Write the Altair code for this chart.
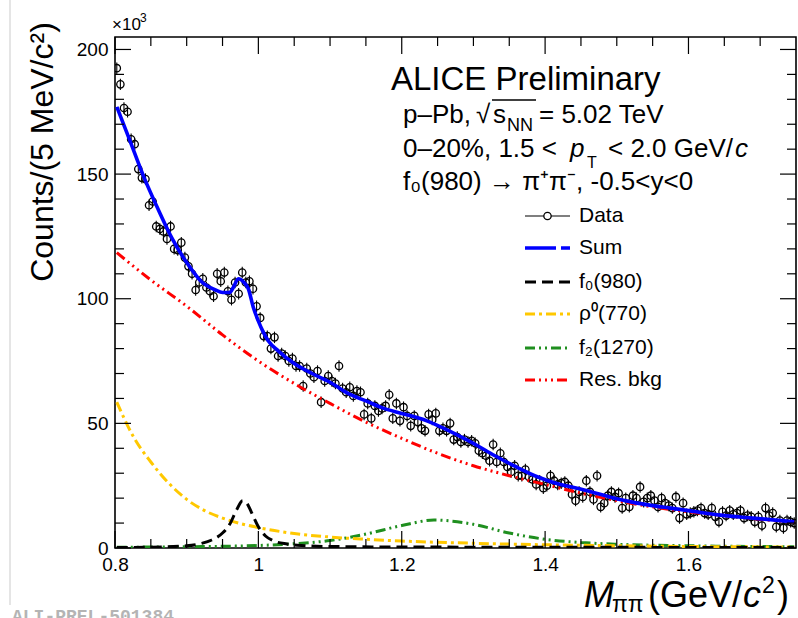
import altair as alt
import pandas as pd
import numpy as np

# ---------------- data (counts in units of 10^3) ----------------
X_MIN, X_MAX = 0.8, 1.75
Y_MAX = 205
BIN_START, BIN_WIDTH = 0.8025, 0.005

counts = [
    192.5, 186, 176.5, 175, 164, 162, 152, 148.5, 148, 137.5,
    139, 129, 128, 127, 124, 129, 120, 119.5, 122.5, 116.5,
    113, 110, 103.5, 106.5, 108, 104.5, 103, 101, 110, 107,
    110.5, 103, 99.6, 106.5, 102, 110.5, 106.5, 107, 104, 97,
    92.3, 85, 85, 80, 84.5, 77, 78, 77, 75, 76,
    73, 73, 65, 72, 70, 68.5, 71, 58.5, 67, 69,
    67, 66, 73, 64, 62.5, 64.5, 61, 63, 62.5, 53.6,
    58, 52, 57, 55, 56, 57, 61.5, 52, 58, 51,
    56.5, 53, 49, 53, 50.5, 48, 47, 53.6, 51.5, 54,
    47, 48, 47, 50, 43.5, 44.5, 42.5, 43.5, 42.5, 43,
    42, 39, 38, 37, 35, 41.5, 34.5, 38, 34.5, 32.5,
    30.5, 33, 29, 29, 31.5, 28.5, 27.5, 25.5, 27, 24,
    25, 29, 27, 25.5, 26, 26.5, 25, 21.5, 19, 22.5,
    20.5, 27, 22.5, 19.5, 29, 16.5, 18, 21, 22.5, 20.5,
    22, 16, 20, 16.5, 21, 20, 24.5, 18.5, 20, 21,
    19, 16.5, 20, 18, 17, 16, 20.5, 12, 18, 13.5,
    14, 14.5, 15, 16, 14, 13.5, 16, 12.5, 10.5, 14.5,
    13, 15, 13.5, 14, 15, 12, 13, 12.5, 10.5, 12.5,
    9, 16, 13, 14, 8.5, 11, 8, 11, 10.5, 10,
]
count_err = 2.3

sum_x = [0.8025, 0.82, 0.84, 0.86, 0.88, 0.90, 0.92, 0.94, 0.95, 0.96, 0.965, 0.972,
         0.98, 0.986, 0.993, 1.0, 1.007, 1.014, 1.028, 1.05, 1.075, 1.1, 1.125, 1.15,
         1.175, 1.2, 1.235, 1.255, 1.28, 1.3, 1.33, 1.36, 1.39, 1.415, 1.44, 1.465,
         1.49, 1.52, 1.55, 1.575, 1.6, 1.645, 1.69, 1.7475]
sum_y = [177, 164, 149, 136, 124, 114.5, 107, 103.5, 102.5, 102.5, 104.5, 108,
         106.5, 104, 96.5, 91, 86.5, 83, 79, 74, 70, 66.5, 62, 59,
         56, 54, 51, 48.5, 45, 42, 37, 32.5, 28.5, 26, 24.3, 22.5,
         20.5, 18.5, 17, 16, 15, 13.2, 12, 10.5]

bkg_x = [0.8025, 0.85, 0.9, 0.95, 1.0, 1.05, 1.1, 1.15, 1.2, 1.25, 1.3, 1.35, 1.4,
         1.45, 1.5, 1.55, 1.6, 1.65, 1.7, 1.7475]
bkg_y = [118.5, 107.5, 97, 85.5, 75, 66, 58, 50.5, 44, 38, 33, 29, 25.5,
         22, 19, 16.5, 14.5, 13, 11.5, 10.3]

rho_x = [0.8025, 0.825, 0.85, 0.875, 0.9, 0.925, 0.95, 0.975, 1.0, 1.05, 1.1, 1.15,
         1.2, 1.3, 1.4, 1.5, 1.6, 1.7475]
rho_y = [58.5, 45, 34.5, 26, 19.5, 15, 12, 9.8, 8.2, 5.8, 4.4, 3.5,
         2.8, 1.9, 1.3, 0.9, 0.6, 0.4]

f0_x = [0.8025, 0.85, 0.9, 0.92, 0.935, 0.95, 0.96, 0.97, 0.978, 0.985, 0.99, 1.0,
        1.01, 1.02, 1.04, 1.06, 1.1, 1.2, 1.4, 1.7475]
f0_y = [0.2, 0.3, 0.9, 1.8, 3.2, 6, 9.5, 15.5, 19, 17.5, 14.5, 8.5,
        4.8, 3.0, 1.6, 1.0, 0.6, 0.4, 0.3, 0.2]

f2_x = [0.8025, 0.9, 1.0, 1.05, 1.1, 1.15, 1.2, 1.245, 1.3, 1.35, 1.4, 1.45, 1.5,
        1.6, 1.7475]
f2_y = [0.3, 0.5, 1.0, 1.7, 3, 5.6, 9.0, 11.2, 9.5, 6, 3.5, 2.2, 1.5,
        0.9, 0.5]

x_major = [0.8, 1.0, 1.2, 1.4, 1.6]
x_minor = [0.85, 0.9, 0.95, 1.05, 1.1, 1.15, 1.25, 1.3, 1.35, 1.45, 1.5, 1.55, 1.65, 1.7]
y_major = [0, 50, 100, 150, 200]
y_minor = [10, 20, 30, 40, 60, 70, 80, 90, 110, 120, 130, 140, 160, 170, 180, 190]

legend_labels = ["Data", "Sum", "f\u2080(980)", "\u03c1\u2070(770)", "f\u2082(1270)", "Res. bkg"]

# ---------------- layout ----------------
W, H = 681, 511
L, T = 115, 37
FONT = "Liberation Sans"

xs = alt.Scale(domain=[X_MIN, X_MAX], nice=False, zero=False)
ys = alt.Scale(domain=[0, Y_MAX], nice=False, zero=False)
AX = alt.Axis(values=x_major, labelExpr="datum.value == 1 ? '1' : format(datum.value, '.1f')",
              ticks=False, domain=False, grid=False, title=None, labelFlush=False,
              labelOverlap=False,
              labelFont=FONT, labelFontSize=19, labelColor="black", labelPadding=7)
AY = alt.Axis(values=y_major, ticks=False, domain=False, grid=False, title=None,
              labelFlush=False, labelOverlap=False,
              labelFont=FONT, labelFontSize=19, labelColor="black", labelPadding=7)


def X(f):
    return alt.X(f, scale=xs, axis=AX)


def Y(f):
    return alt.Y(f, scale=ys, axis=AY)


centers = np.round(BIN_START + BIN_WIDTH * np.arange(len(counts)), 4)
df_data = pd.DataFrame({"x": centers, "y": counts})
df_data["lo"] = df_data["y"] - count_err
df_data["hi"] = df_data["y"] + count_err

layers = []

err_layer = alt.Chart(df_data).mark_rule(color="black", strokeWidth=1.1, clip=True).encode(
    x=X("x:Q"), y=Y("lo:Q"), y2="hi:Q")
pts_layer = alt.Chart(df_data).mark_point(shape="circle", filled=False, color="black",
                                          size=54, strokeWidth=1.3, opacity=1, clip=True).encode(
    x=X("x:Q"), y=Y("y:Q"))
layers += [err_layer, pts_layer]


def curve(xv, yv, color, dash, width=3):
    d = pd.DataFrame({"x": xv, "y": yv})
    kw = dict(color=color, strokeWidth=width, interpolate="monotone", clip=True)
    if dash:
        kw["strokeDash"] = dash
    return alt.Chart(d).mark_line(**kw).encode(x=X("x:Q"), y=Y("y:Q"))


RED, YEL, GRN, BLU = "#ff0000", "#ffc800", "#1f8f1f", "#0000ff"
D_F0 = [11, 6]
D_RHO = [10, 4, 3, 4]
D_F2 = [10, 4, 2, 4, 2, 4]
D_BKG = [10, 4, 2, 4, 2, 4, 2, 4]

layers += [
    curve(f2_x, f2_y, GRN, D_F2),
    curve(rho_x, rho_y, YEL, D_RHO),
    curve(f0_x, f0_y, "black", D_F0),
    curve(bkg_x, bkg_y, RED, D_BKG),
    curve(sum_x, sum_y, BLU, None, 3.6),
]


# inward ticks on all four sides
def xticks(vals, length):
    d = pd.DataFrame({"x": vals})
    bot = alt.Chart(d).mark_rule(color="black", strokeWidth=1.2).encode(
        x=X("x:Q"), y=alt.value(H), y2=alt.value(H - length))
    top = alt.Chart(d).mark_rule(color="black", strokeWidth=1.2).encode(
        x=X("x:Q"), y=alt.value(0), y2=alt.value(length))
    return [bot, top]


def yticks(vals, length):
    d = pd.DataFrame({"y": vals})
    lft = alt.Chart(d).mark_rule(color="black", strokeWidth=1.2).encode(
        y=Y("y:Q"), x=alt.value(0), x2=alt.value(length))
    rgt = alt.Chart(d).mark_rule(color="black", strokeWidth=1.2).encode(
        y=Y("y:Q"), x=alt.value(W), x2=alt.value(W - length))
    return [lft, rgt]


layers += xticks(x_major, 17) + xticks(x_minor, 9) + yticks(y_major, 16) + yticks(y_minor, 9)


def txt(s, px, py, size, italic=False, align="left", baseline="alphabetic",
        color="black", font=FONT, angle=0, weight="normal"):
    kw = dict(align=align, baseline=baseline, fontSize=size, font=font,
              fontStyle="italic" if italic else "normal", color=color, fontWeight=weight)
    if angle:
        kw["angle"] = angle
    return alt.Chart(pd.DataFrame({"t": [s]})).mark_text(**kw).encode(
        x=alt.value(px - L), y=alt.value(py - T), text="t:N")


def hline(x1, x2, y, color="black", width=1.5, dash=None):
    kw = dict(color=color, strokeWidth=width)
    if dash:
        kw["strokeDash"] = dash
    return alt.Chart(pd.DataFrame({"a": [0]})).mark_rule(**kw).encode(
        x=alt.value(x1 - L), x2=alt.value(x2 - L), y=alt.value(y - T), y2=alt.value(y - T))


# annotation block
layers += [
    txt("ALICE Preliminary", 391, 90, 33),
    txt("p\u2013Pb, ", 403, 123, 26),
    txt("\u221a", 476, 123, 26),
    hline(492, 536, 100, width=1.4),
    txt("s", 493, 123, 26),
    txt("NN", 507, 131, 18),
    txt("= 5.02 TeV", 539, 123, 26),
    txt("0\u201320%, 1.5 <", 403, 157, 26),
    txt("p", 570, 157, 26, italic=True),
    txt("T", 587, 168, 16),
    txt("< 2.0 GeV/", 608, 157, 26),
    txt("c", 735, 157, 26, italic=True),
    txt("f\u2080(980) \u2192 \u03c0\u207a\u03c0\u207b, -0.5<y<0", 403, 190, 26),
]

# legend
rows = [216, 248, 282, 314, 348, 380]
LX1, LX2, LTX = 525, 570, 579
layers += [
    hline(LX1, LX2, rows[0], "black", 1.2),
    alt.Chart(pd.DataFrame({"a": [0]})).mark_point(shape="circle", filled=True, fill="white",
                                                    stroke="black", size=54, strokeWidth=1.3, opacity=1).encode(
        x=alt.value((LX1 + LX2) / 2 - L), y=alt.value(rows[0] - T)),
    hline(LX1, LX2, rows[1], BLU, 3.6, [31, 5, 9, 5]),
    hline(LX1, LX2, rows[2], "black", 3, D_F0),
    hline(LX1, LX2, rows[3], YEL, 3, D_RHO),
    hline(LX1, LX2, rows[4], GRN, 3, D_F2),
    hline(LX1, LX2, rows[5], RED, 3, D_BKG),
]
for lab, ry in zip(legend_labels, rows):
    layers.append(txt(lab, LTX, ry, 21, baseline="middle"))

# axis titles and multiplier
layers += [
    txt("Counts/(5 MeV/c\u00b2)", 53, 152, 32, angle=270, align="center"),
    txt("\u00d710", 112, 30, 17),
    txt("3", 140, 22, 12),
    txt("M", 584, 607, 36, italic=True),
    txt("\u03c0\u03c0", 612, 612, 23),
    txt("(GeV/", 648, 607, 36),
    txt("c", 743, 607, 36, italic=True),
    txt("2", 762, 593, 23),
    txt(")", 777, 607, 36),
    txt("ALI-PREL-501384", 12, 622, 18, color="#b4b4b4", font="Liberation Mono", weight="bold"),
]

# light page edge on the left
layers.append(alt.Chart(pd.DataFrame({"a": [0]})).mark_rule(color="#dcdcdc", strokeWidth=1.5).encode(
    x=alt.value(10 - L), y=alt.value(0 - T), y2=alt.value(605 - T)))

chart = alt.layer(*layers).properties(
    width=W, height=H,
    autosize=alt.AutoSizeParams(type="none"),
    padding={"left": L, "top": T, "right": 798 - L - W, "bottom": 618 - T - H},
    background="white",
).configure_view(stroke="black", strokeWidth=1.6)

chart.save("out.html", embed_options={"renderer": "svg", "actions": False})
